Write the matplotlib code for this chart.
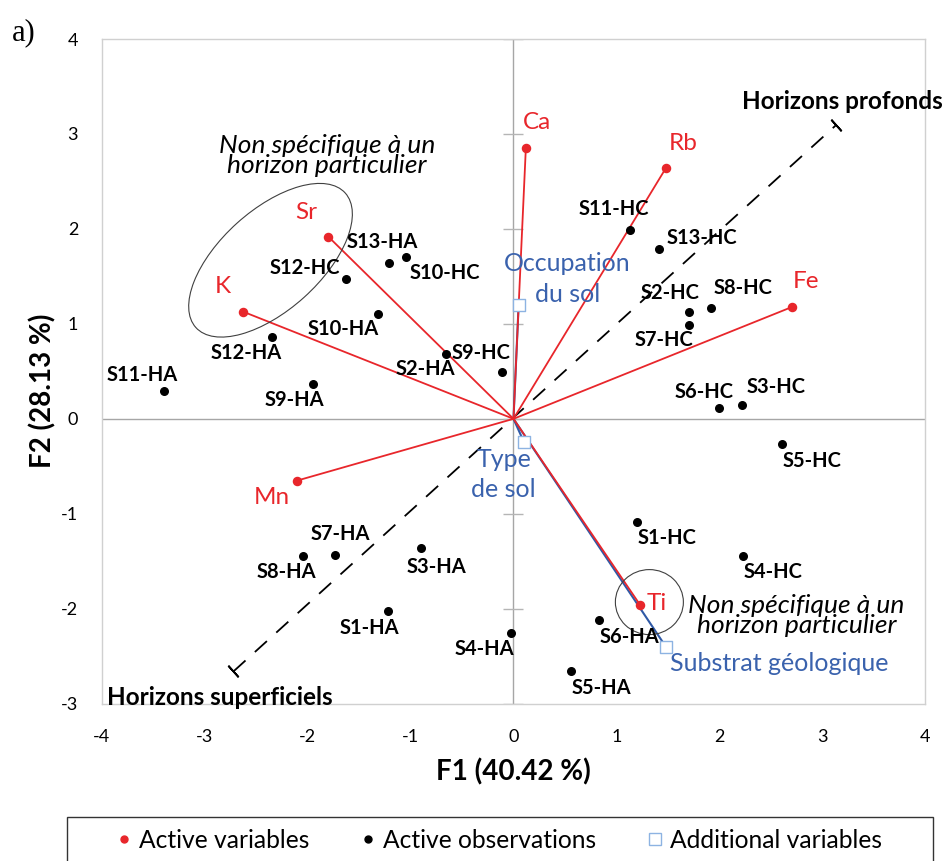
import matplotlib.pyplot as plt
import matplotlib.transforms as mtransforms
from matplotlib.patches import Ellipse, Rectangle
from matplotlib.lines import Line2D

plt.rcParams['font.family'] = ['Lato', 'DejaVu Sans']
plt.rcParams['axes.unicode_minus'] = False

# active variables (red)
var_names = ["Ca", "Rb", "Fe", "Sr", "K", "Mn", "Ti"]
var_x = [0.12, 1.48, 2.71, -1.80, -2.63, -2.10, 1.23]
var_y = [2.85, 2.64, 1.18, 1.92, 1.13, -0.65, -1.96]

# additional variables (blue squares)
sup_names = ["Occupation\ndu sol", "Type\nde sol", "Substrat géologique"]
sup_x = [0.05, 0.10, 1.48]
sup_y = [1.20, -0.24, -2.40]

# active observations
obs_names = ["S1-HA", "S2-HA", "S3-HA", "S4-HA", "S5-HA", "S6-HA", "S7-HA",
             "S8-HA", "S9-HA", "S10-HA", "S11-HA", "S12-HA", "S13-HA",
             "S1-HC", "S2-HC", "S3-HC", "S4-HC", "S5-HC", "S6-HC", "S7-HC",
             "S8-HC", "S9-HC", "S10-HC", "S11-HC", "S12-HC", "S13-HC"]
obs_x = [-1.22, -0.66, -0.90, -0.02, 0.56, 0.83, -1.73,
         -2.04, -1.95, -1.32, -3.39, -2.35, -1.21,
         1.20, 1.70, 2.22, 2.23, 2.61, 2.00, 1.70,
         1.92, -0.11, -1.04, 1.13, -1.63, 1.41]
obs_y = [-2.02, 0.68, -1.36, -2.26, -2.66, -2.12, -1.43,
         -1.44, 0.37, 1.10, 0.29, 0.86, 1.64,
         -1.09, 1.12, 0.15, -1.44, -0.26, 0.11, 0.99,
         1.17, 0.49, 1.70, 1.99, 1.47, 1.79]

# label offsets in pixels (dx, dy up) relative to each point
obs_off = [(-18, -17), (-20, -15), (16, -19), (-27, -16), (30, -17), (31, -17), (5, 21),
           (-17, -16), (-18, -16), (-34, -15), (-22, 16), (-25, -16), (-7, 21),
           (30, -16), (-18, 19), (34, 18), (30, -16), (30, -17), (-15, 16), (-25, -15),
           (32, 20), (-21, 19), (38, -16), (-16, 21), (-41, 11), (43, 11)]

red = '#e8262b'
blue = '#3a62ad'
line_blue = '#2f59a6'
sq_edge = '#8db3e2'

fig = plt.figure(figsize=(9.46, 8.61), dpi=100)
ax = fig.add_axes([0.1075, 0.1827, 0.8706, 0.772])
ax.set_xlim(-4, 4)
ax.set_ylim(-3, 4)

for s in ax.spines.values():
    s.set_color('#d0d0d0')
    s.set_linewidth(1)
ax.tick_params(length=0, labelsize=13, pad=18)
ax.set_xticks(range(-4, 5))
ax.set_yticks(range(-3, 5))
ax.tick_params(axis='y', pad=17)

ax.axhline(0, color='#a6a6a6', lw=1, zorder=1)
ax.axvline(0, color='#a6a6a6', lw=1, zorder=1)
yt = list(range(-3, 5))
ax.plot([0] * len(yt), yt, ls='none', marker='_', ms=14, mew=1,
        color='#b5b5b5', zorder=1)

# horizons dashed axis
hx = [-2.72, 3.13]
hy = [-2.66, 3.09]
ax.plot(hx, hy, color='black', lw=1.3, dashes=(9, 7), zorder=2)
ax.plot(hx, hy, ls='none', marker=(2, 2, 42), ms=11, mew=1.3,
        color='black', zorder=2)
ax.text(2.22, 3.34, "Horizons profonds", fontsize=17.5, fontweight='bold',
        ha='left', va='center', clip_on=False)
ax.text(-3.95, -2.93, "Horizons superficiels", fontsize=17.5, fontweight='bold',
        ha='left', va='center')

# variable vectors
for x, y in zip(var_x, var_y):
    ax.plot([0, x], [0, y], color=red, lw=1.3, zorder=3)
for x, y in zip(sup_x, sup_y):
    ax.plot([0, x], [0, y], color=line_blue, lw=1.5, zorder=2.5)

ax.scatter(obs_x, obs_y, s=30, color='black', zorder=5)
ax.scatter(var_x, var_y, s=34, color=red, zorder=5)
ax.scatter(sup_x, sup_y, s=80, marker='s', facecolor='white',
           edgecolor=sq_edge, lw=1, zorder=5)

for name, x, y, (dx, dy) in zip(obs_names, obs_x, obs_y, obs_off):
    ax.annotate(name, (x, y), xytext=(dx / 1.389, dy / 1.389),
                textcoords='offset points', ha='center', va='center',
                fontsize=14.5, fontweight='bold', color='black', zorder=6)

var_off = [(11, 26), (17, 25), (14, 25), (-22, 24), (-20, 25), (-25, -17), (17, 1)]
for name, x, y, (dx, dy) in zip(var_names, var_x, var_y, var_off):
    ax.annotate(name, (x, y), xytext=(dx / 1.389, dy / 1.389),
                textcoords='offset points', ha='center', va='center',
                fontsize=17.5, color=red, zorder=6)

sup_off = [(49, 26), (-20, -33), (113, -17)]
for name, x, y, (dx, dy) in zip(sup_names, sup_x, sup_y, sup_off):
    ax.annotate(name, (x, y), xytext=(dx / 1.389, dy / 1.389),
                textcoords='offset points', ha='center', va='center',
                fontsize=18, color=blue, zorder=6, linespacing=1.4)

# "non specific" groups
ax.text(-1.81, 2.77, "Non spécifique à un\nhorizon particulier", fontsize=19,
        style='italic', ha='center', va='center', linespacing=0.85)
ax.text(2.75, -2.07, "Non spécifique à un\nhorizon particulier", fontsize=19,
        style='italic', ha='center', va='center', linespacing=0.85)

tr1 = fig.dpi_scale_trans + mtransforms.ScaledTranslation(-2.36, 1.67, ax.transData)
ax.add_patch(Ellipse((0, 0), 2.01, 1.0, angle=42, transform=tr1,
                     fill=False, edgecolor='#404040', lw=0.8, zorder=4))
tr2 = fig.dpi_scale_trans + mtransforms.ScaledTranslation(1.32, -1.93, ax.transData)
ax.add_patch(Ellipse((0, 0), 0.68, 0.65, angle=0, transform=tr2,
                     fill=False, edgecolor='#404040', lw=0.8, zorder=4))

ax.set_xlabel("F1 (40.42 %)", fontsize=20, fontweight='bold', labelpad=10)
ax.set_ylabel("F2 (28.13 %)", fontsize=20, fontweight='bold')
ax.yaxis.set_label_coords(-0.055, 0.47)

fig.text(12 / 946, 1 - 33 / 861, "a)", fontsize=22, family='Liberation Serif',
         ha='left', va='center')

# legend
fig.patches.append(Rectangle((66.7 / 946, -0.01), 866 / 946, 1 - 816.5 / 861 + 0.01,
                             transform=fig.transFigure, fill=False,
                             edgecolor='#333333', lw=1))
handles = [
    Line2D([], [], ls='none', marker='o', ms=5, color=red),
    Line2D([], [], ls='none', marker='o', ms=5, color='black'),
    Line2D([], [], ls='none', marker='s', ms=8, mfc='white', mec=sq_edge, mew=1),
]
fig.legend(handles, ["Active variables", "Active observations", "Additional variables"],
           loc='center left', bbox_to_anchor=(119 / 946, 1 - 840 / 861),
           ncol=3, frameon=False, fontsize=17.7, borderpad=0, borderaxespad=0,
           handlelength=0.4, handletextpad=0.41, columnspacing=2.2)

fig.savefig("out.png", dpi=100)
